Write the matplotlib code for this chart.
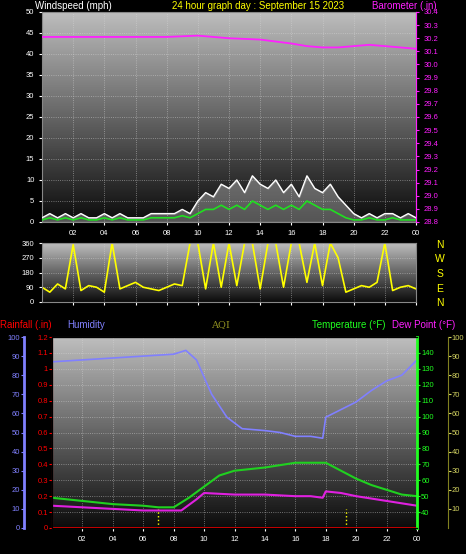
import numpy as np
import matplotlib
matplotlib.use("Agg")
import matplotlib.pyplot as plt
from matplotlib.colors import LinearSegmentedColormap

plt.rcParams["font.family"] = ["Liberation Sans", "DejaVu Sans"]
W, H = 466, 554
fig = plt.figure(figsize=(W/100, H/100), dpi=100, facecolor="black")

hours_half = np.arange(0, 24.01, 0.5)
gust = [1,2,1,2,1,2,1,1,2,1,2,1,1,1,2,2,2,2,3,2,
        5,7,6,9,8,10,7,11,9,8,10,7,9,6,11,8,7,9,6,4,
        2,1,2,1,2,2,1,2,1]
wind_avg = [0.5,1,0.5,1,0.5,1,0.5,0.5,1,0.5,1,0.5,0.5,0.5,1,1,1,1,1.5,1,
            2,3,3,4,3,4,3,5,4,3,4,3,4,3,5,4,3,3,2,1,
            0.5,0.5,1,0.5,0.5,1,0.5,0.5,0.5]
baro_h = [0,2,4,6,8,10,12,14,16,17,18,19,20,21,22,23,24]
baro = [30.21,30.21,30.21,30.21,30.21,30.22,30.2,30.19,30.16,30.14,30.13,30.13,30.14,30.15,30.14,30.13,30.12]
wdir = [90,60,110,80,350,70,100,90,60,360,80,100,120,90,80,70,90,110,100,360,
        360,80,360,90,360,100,360,360,80,360,360,90,360,360,120,360,100,360,270,60,
        80,100,90,120,360,70,90,100,80]
hum_h = [0,2,4,6,8,8.8,9.5,10.5,11.5,12.5,14,15,16,17,17.8,18,19,20,21,22,23,24]
hum = [87,88,89,90,91,93,88,70,58,52,51,50,48,48,47,58,62,66,72,77,80,88]
temp_h = [0,2,4,6,7,8,9,10,11,12,14,16,17,18,19,20,21,22,23,24]
temp = [49,47,45,44,43,43,49,56,63,66,68,71,71,71,66,61,57,54,51,50]
dew_h = [0,2,4,6,8,8.5,9.5,10,12,14,16,17,17.8,18,19,20,22,24]
dew = [44,43,42,41,41,41,48,52,51,51,50,50,49,53,52,50,47,44]
rain_h = [0, 24]
rain = [0, 0]
tick_labels = ["02","04","06","08","10","12","14","16","18","20","22","00"]

cmap = LinearSegmentedColormap.from_list("g", ["#bdbdbd", "#0c0c0c"])
def bg(ax):
    ax.imshow(np.linspace(0, 1, 100)[:, None], aspect="auto", cmap=cmap,
              extent=(0, 1, 0, 1), transform=ax.transAxes, zorder=0)
    ax.set_facecolor("black")
    ax.grid(True, color="#d8d8d8", ls=":", lw=0.6, alpha=0.6)
    for s in ax.spines.values():
        s.set_color("#888888")

def ax_rect(x0, y0, x1, y1):
    return [x0/W, 1-y1/H, (x1-x0)/W, (y1-y0)/H]

fs = 5.5
tfs = 7
ax1 = fig.add_axes(ax_rect(42, 12, 416, 222))
bg(ax1)
ax1.fill_between(hours_half, gust, color="#e0e0e0", alpha=0.35, zorder=2)
ax1.plot(hours_half, gust, color="white", lw=1.0, zorder=3)
ax1.plot(hours_half, wind_avg, color="#20e020", lw=1.2, zorder=4)
ax1.set_xlim(0, 24); ax1.set_ylim(0, 50)
ax1.set_yticks(range(0, 51, 5))
ax1.set_xticks(range(2, 25, 2)); ax1.set_xticklabels(tick_labels)
ax1.tick_params(colors="white", labelsize=fs, length=2)
ax1b = ax1.twinx()
ax1b.plot(baro_h, baro, color="#ff20ff", lw=1.3)
ax1b.set_ylim(28.8, 30.4)
ax1b.set_yticks(np.round(np.arange(28.8, 30.41, 0.1), 1))
ax1b.tick_params(colors="#ff20ff", labelsize=fs, length=2)
for s in ax1b.spines.values(): s.set_visible(False)
ax1b.spines["right"].set_visible(True); ax1b.spines["right"].set_color("#ff20ff")

fig.text(35/W, 1-6/H, "Windspeed (mph)", color="white", fontsize=tfs, va="center")
fig.text(172/W, 1-6/H, "24 hour graph day : September 15 2023", color="yellow", fontsize=tfs, va="center")
fig.text(372/W, 1-6/H, "Barometer (.in)", color="#ff20ff", fontsize=tfs, va="center")

ax2 = fig.add_axes(ax_rect(42, 243, 416, 302))
bg(ax2)
ax2.plot(hours_half, wdir, color="yellow", lw=1.2)
ax2.set_xlim(0, 24); ax2.set_ylim(0, 360)
ax2.set_yticks([0, 90, 180, 270, 360])
ax2.set_xticks(range(2, 25, 2)); ax2.set_xticklabels([])
ax2.tick_params(colors="white", labelsize=fs, length=2)
for i, l in enumerate("NWSEN"):
    fig.text(440/W, 1-(245+i*14.5)/H, l, color="yellow", fontsize=7.5, ha="center", va="center")

ax3 = fig.add_axes(ax_rect(52, 337, 417, 528))
bg(ax3)
ax3.set_xlim(0, 24)
ax3.set_xticks(range(2, 25, 2)); ax3.set_xticklabels(tick_labels)
ax3.set_ylim(0, 1.2)
ax3.set_yticks(np.round(np.arange(0, 1.21, 0.1), 1))
ax3.set_yticklabels([f"{v:g}" for v in np.round(np.arange(0, 1.21, 0.1), 1)])
ax3.tick_params(axis="y", colors="red", labelsize=fs, length=2, pad=1)
ax3.tick_params(axis="x", colors="white", labelsize=fs, length=2)
ax3.spines["left"].set_color("red")
ax3.plot(rain_h, rain, color="red", lw=2, zorder=5)
for x in (7, 19.3):
    ax3.axvline(x, ymax=0.1, color="yellow", ls=":", lw=1)

axh = ax3.twinx()
axh.set_ylim(0, 100)
axh.plot(hum_h, hum, color="#8080ff", lw=1.2)
axh.yaxis.set_ticks_position("left")
axh.spines["left"].set_position(("outward", 20))
axh.spines["left"].set_color("#8080ff"); axh.spines["left"].set_linewidth(2)
axh.spines["right"].set_visible(False)
axh.set_yticks(range(0, 101, 10))
axh.tick_params(colors="#8080ff", labelsize=fs, length=2, pad=1)

axt = ax3.twinx()
axt.set_ylim(30, 150)
axt.plot(temp_h, temp, color="#20d020", lw=1.5)
axt.plot(dew_h, dew, color="#e020e0", lw=1.5)
axt.set_yticks(range(40, 141, 10))
axt.tick_params(colors="#20ff20", labelsize=fs, length=2, pad=1)
axt.spines["right"].set_color("#20ff20"); axt.spines["right"].set_linewidth(2)

axd = ax3.twinx()
axd.set_ylim(0, 100)
axd.spines["right"].set_position(("outward", 22))
axd.spines["right"].set_color("#808020")
axd.set_yticks(range(10, 101, 10))
axd.tick_params(colors="#d0d060", labelsize=fs, length=2, pad=1)

fig.text(0, 1-325/H, "Rainfall (.in)", color="red", fontsize=tfs, va="center")
fig.text(67/W, 1-325/H, "Humidity", color="#8080ff", fontsize=tfs, va="center")
fig.text(211/W, 1-325/H, "AQI", color="#909020", fontsize=tfs, va="center", family="DejaVu Serif")
fig.text(312/W, 1-325/H, "Temperature (°F)", color="#20ff20", fontsize=tfs, va="center")
fig.text(392/W, 1-325/H, "Dew Point (°F)", color="#ff20ff", fontsize=tfs, va="center")

fig.savefig("out.png", dpi=100, facecolor="black")
